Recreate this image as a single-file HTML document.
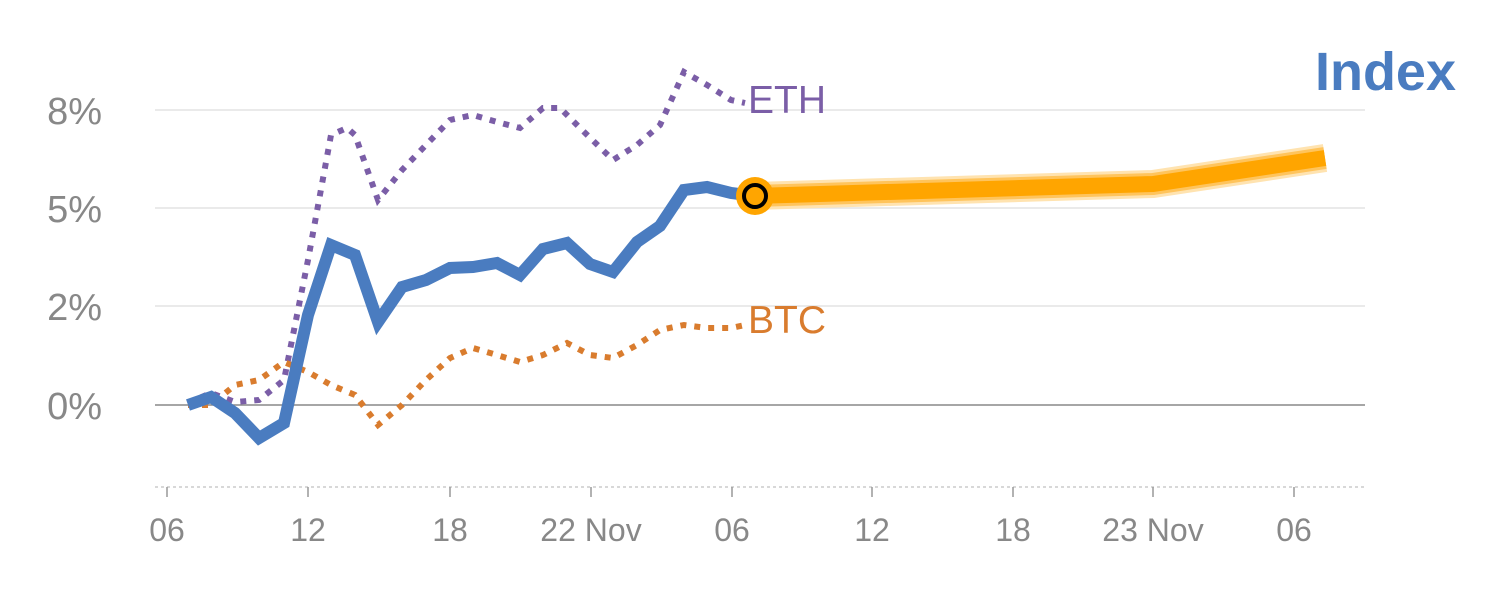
<!DOCTYPE html>
<html><head><meta charset="utf-8"><style>
html,body{margin:0;padding:0;background:#fff;}
svg{display:block;font-family:"Liberation Sans",sans-serif;}
</style></head><body>
<svg width="1500" height="600" viewBox="0 0 1500 600">
<g stroke="#e3e3e3" stroke-width="1.5">
<line x1="155" y1="110" x2="1365" y2="110"/>
<line x1="155" y1="208" x2="1365" y2="208"/>
<line x1="155" y1="306" x2="1365" y2="306"/>
</g>
<line x1="155" y1="405" x2="1365" y2="405" stroke="#888" stroke-width="1.5"/>
<line x1="155" y1="487" x2="1365" y2="487" stroke="#ccc" stroke-width="1.5" stroke-dasharray="3,3"/>
<g stroke="#999" stroke-width="1.5">
<line x1="167" y1="487" x2="167" y2="497"/><line x1="308" y1="487" x2="308" y2="497"/>
<line x1="450" y1="487" x2="450" y2="497"/><line x1="591" y1="487" x2="591" y2="497"/>
<line x1="732" y1="487" x2="732" y2="497"/><line x1="872" y1="487" x2="872" y2="497"/>
<line x1="1013" y1="487" x2="1013" y2="497"/><line x1="1153" y1="487" x2="1153" y2="497"/>
<line x1="1294" y1="487" x2="1294" y2="497"/>
</g>
<g fill="#888" font-size="38" text-anchor="end">
<text x="102" y="124">8%</text><text x="102" y="222">5%</text>
<text x="102" y="320">2%</text><text x="102" y="419">0%</text>
</g>
<g fill="#888" font-size="32" text-anchor="middle">
<text x="167" y="541">06</text><text x="308" y="541">12</text><text x="450" y="541">18</text>
<text x="591" y="541">22 Nov</text><text x="732" y="541">06</text><text x="872" y="541">12</text>
<text x="1013" y="541">18</text><text x="1153" y="541">23 Nov</text><text x="1294" y="541">06</text>
</g>
<polyline fill="none" stroke="#7b5ea7" stroke-width="6" stroke-dasharray="6,8" points="188,403 211,393 235,402 259,400 284,380 308,260 331,135 347,128 355,135 378,200 402,170 426,145 450,120 473,115 497,122 520,128 543,108 560,108 580,128 613,160 637,145 660,125 684,72 707,85 731,100 745,103"/>
<polyline fill="none" stroke="#d97c2e" stroke-width="6" stroke-dasharray="6,8" points="188,405 211,405 235,385 259,380 284,362 308,372 331,385 355,395 378,425 402,405 426,380 450,358 473,348 497,355 520,362 543,355 567,343 590,355 613,358 637,345 660,330 684,325 707,328 731,328 745,325"/>
<polyline fill="none" stroke="#4a7cc0" stroke-width="12" stroke-linejoin="miter" points="188,405 211,397 235,413 259,438 284,423 308,315 331,245 355,255 378,322 402,287 426,280 450,268 473,267 497,263 520,275 543,249 567,243 590,264 613,272 637,242 660,226 684,190 707,187 731,193 755,196"/>
<polyline fill="none" stroke="#ffe3b0" stroke-width="28" points="755,196 1153,184 1325,158"/>
<polyline fill="none" stroke="#ffc45c" stroke-width="22" points="755,196 1153,184 1325,158"/>
<polyline fill="none" stroke="#ffa500" stroke-width="16" points="755,196 1153,184 1325,158"/>
<circle cx="755" cy="196" r="19" fill="#ffa500"/>
<circle cx="755" cy="196" r="11" fill="none" stroke="#000" stroke-width="4"/>
<text x="748" y="113" fill="#7b5ea7" font-size="39">ETH</text>
<text x="748" y="333" fill="#d97c2e" font-size="39">BTC</text>
<text x="1456" y="90" fill="#4a7cc0" font-size="54" font-weight="bold" text-anchor="end">Index</text>
</svg>
</body></html>
